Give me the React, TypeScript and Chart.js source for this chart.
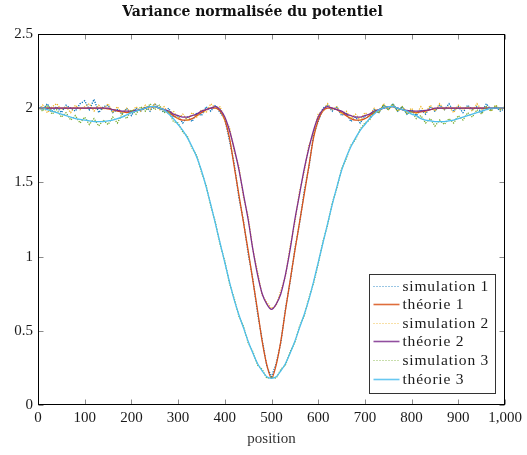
import React, { useEffect, useRef } from 'react';
import { Chart, registerables } from 'chart.js';

Chart.register(...registerables);

const W = 527;
const H = 455;

const chartTitle = 'Variance normalisée du potentiel';
const xTitle = 'position';
const seriesLabels = ['simulation 1', 'théorie 1', 'simulation 2', 'théorie 2', 'simulation 3', 'théorie 3'];

const positions = [
  0, 10, 20, 30, 40, 50, 60, 70, 80, 90,
  100, 110, 120, 130, 140, 150, 160, 170, 180, 190,
  200, 210, 220, 230, 240, 250, 260, 270, 280, 290,
  300, 310, 320, 330, 340, 350, 360, 370, 380, 390,
  400, 410, 420, 430, 440, 450, 460, 470, 480, 490,
  500, 510, 520, 530, 540, 550, 560, 570, 580, 590,
  600, 610, 620, 630, 640, 650, 660, 670, 680, 690,
  700, 710, 720, 730, 740, 750, 760, 770, 780, 790,
  800, 810, 820, 830, 840, 850, 860, 870, 880, 890,
  900, 910, 920, 930, 940, 950, 960, 970, 980, 990,
  1000,
];

const simulation1 = [
  2.02, 1.99, 2.03, 1.98, 2.01, 1.97, 2.02, 2.00, 1.98, 2.03,
  2.05, 1.99, 2.06, 1.97, 2.01, 2.02, 1.97, 1.99, 1.96, 2.00,
  1.95, 2.00, 1.98, 2.01, 1.98, 2.03, 2.00, 1.97, 2.00, 1.94,
  1.95, 1.90, 1.94, 1.91, 1.97, 1.95, 2.01, 1.98, 2.02, 1.97,
  1.93, 1.78, 1.63, 1.40, 1.24, 1.02, 0.85, 0.62, 0.44, 0.26,
  0.19, 0.28, 0.42, 0.65, 0.83, 1.05, 1.22, 1.44, 1.60, 1.82,
  1.91, 2.00, 2.02, 1.98, 2.01, 1.95, 1.97, 1.91, 1.94, 1.90,
  1.95, 1.93, 1.99, 1.97, 2.02, 1.99, 2.03, 1.98, 2.01, 1.96,
  1.99, 1.95, 1.99, 1.96, 2.01, 1.98, 2.02, 1.99, 2.03, 1.98,
  2.01, 1.97, 2.02, 1.99, 2.01, 1.97, 2.03, 1.99, 2.01, 1.98,
  2.00,
];

const theory1 = [
  2.00, 2.00, 2.00, 2.00, 2.00, 2.00, 2.00, 2.00, 2.00, 2.00,
  2.00, 2.00, 2.00, 2.00, 2.00, 1.995, 1.99, 1.98, 1.975, 1.97,
  1.975, 1.98, 1.99, 2.00, 2.01, 2.01, 2.00, 1.99, 1.97, 1.95,
  1.93, 1.92, 1.92, 1.93, 1.95, 1.97, 1.99, 2.00, 2.00, 1.98,
  1.92, 1.80, 1.61, 1.42, 1.23, 1.04, 0.84, 0.64, 0.43, 0.27,
  0.18, 0.27, 0.43, 0.64, 0.84, 1.04, 1.23, 1.42, 1.61, 1.80,
  1.92, 1.98, 2.00, 2.00, 1.99, 1.97, 1.95, 1.93, 1.92, 1.92,
  1.93, 1.95, 1.97, 1.99, 2.00, 2.01, 2.01, 2.00, 1.99, 1.98,
  1.975, 1.97, 1.975, 1.98, 1.99, 1.995, 2.00, 2.00, 2.00, 2.00,
  2.00, 2.00, 2.00, 2.00, 2.00, 2.00, 2.00, 2.00, 2.00, 2.00,
  2.00,
];

const simulation2 = [
  1.98, 2.02, 1.97, 2.01, 2.03, 1.99, 2.01, 1.97, 2.02, 1.99,
  2.01, 2.03, 1.98, 2.02, 1.99, 2.03, 1.97, 2.01, 1.96, 2.00,
  1.97, 2.01, 1.98, 2.02, 1.99, 2.03, 1.99, 2.01, 1.96, 1.98,
  1.93, 1.96, 1.92, 1.97, 1.94, 1.99, 1.97, 2.03, 2.00, 2.01,
  1.92, 1.87, 1.71, 1.61, 1.40, 1.27, 1.05, 0.90, 0.74, 0.69,
  0.65, 0.67, 0.77, 0.87, 1.07, 1.23, 1.44, 1.57, 1.75, 1.83,
  1.96, 1.98, 2.03, 1.99, 2.01, 1.96, 1.98, 1.93, 1.96, 1.92,
  1.97, 1.95, 2.00, 1.97, 2.03, 1.99, 2.02, 1.98, 2.01, 1.97,
  2.00, 1.96, 2.01, 1.97, 2.02, 1.98, 2.03, 1.99, 2.01, 1.97,
  2.02, 1.99, 2.01, 1.98, 2.03, 1.99, 2.01, 1.98, 2.02, 1.99,
  2.01,
];

const theory2 = [
  2.00, 2.00, 2.00, 2.00, 2.00, 2.00, 2.00, 2.00, 2.00, 2.00,
  2.00, 2.00, 2.00, 2.00, 2.00, 2.00, 1.99, 1.985, 1.98, 1.98,
  1.98, 1.985, 1.99, 2.00, 2.01, 2.01, 2.00, 1.99, 1.98, 1.96,
  1.95, 1.94, 1.94, 1.95, 1.96, 1.98, 1.99, 2.00, 2.01, 1.99,
  1.94, 1.85, 1.73, 1.59, 1.42, 1.25, 1.05, 0.88, 0.75, 0.68,
  0.645, 0.68, 0.75, 0.88, 1.05, 1.25, 1.42, 1.59, 1.73, 1.85,
  1.94, 1.99, 2.01, 2.00, 1.99, 1.98, 1.96, 1.95, 1.94, 1.94,
  1.95, 1.96, 1.98, 1.99, 2.00, 2.01, 2.01, 2.00, 1.99, 1.985,
  1.98, 1.98, 1.98, 1.985, 1.99, 2.00, 2.00, 2.00, 2.00, 2.00,
  2.00, 2.00, 2.00, 2.00, 2.00, 2.00, 2.00, 2.00, 2.00, 2.00,
  2.00,
];

const simulation3 = [
  2.01, 1.98, 2.02, 1.96, 1.99, 1.94, 1.97, 1.92, 1.95, 1.90,
  1.94, 1.89, 1.93, 1.88, 1.92, 1.89, 1.94, 1.90, 1.96, 1.93,
  1.99, 1.96, 2.01, 1.98, 2.03, 1.99, 2.02, 1.97, 1.98, 1.91,
  1.90, 1.84, 1.81, 1.73, 1.68, 1.57, 1.48, 1.34, 1.23, 1.08,
  0.97, 0.82, 0.72, 0.60, 0.53, 0.42, 0.36, 0.27, 0.24, 0.18,
  0.19, 0.18, 0.24, 0.27, 0.36, 0.42, 0.53, 0.60, 0.72, 0.82,
  0.95, 1.10, 1.21, 1.36, 1.46, 1.59, 1.66, 1.75, 1.79, 1.86,
  1.90, 1.92, 1.98, 1.97, 2.02, 1.99, 2.03, 1.98, 2.01, 1.96,
  1.98, 1.93, 1.95, 1.90, 1.93, 1.88, 1.92, 1.89, 1.93, 1.90,
  1.95, 1.92, 1.97, 1.94, 1.99, 1.96, 2.01, 1.98, 2.02, 1.99,
  2.01,
];

const theory3 = [
  2.00, 2.00, 1.99, 1.98, 1.97, 1.96, 1.95, 1.94, 1.93, 1.925,
  1.92, 1.915, 1.91, 1.91, 1.91, 1.915, 1.92, 1.93, 1.94, 1.955,
  1.97, 1.98, 1.99, 2.00, 2.01, 2.01, 2.00, 1.99, 1.96, 1.93,
  1.89, 1.85, 1.80, 1.74, 1.67, 1.58, 1.47, 1.35, 1.22, 1.09,
  0.96, 0.83, 0.71, 0.61, 0.52, 0.43, 0.35, 0.28, 0.23, 0.19,
  0.18, 0.19, 0.23, 0.28, 0.35, 0.43, 0.52, 0.61, 0.71, 0.83,
  0.96, 1.09, 1.22, 1.35, 1.47, 1.58, 1.67, 1.74, 1.80, 1.85,
  1.89, 1.93, 1.96, 1.99, 2.00, 2.01, 2.01, 2.00, 1.99, 1.98,
  1.96, 1.95, 1.93, 1.92, 1.915, 1.91, 1.91, 1.91, 1.915, 1.92,
  1.93, 1.94, 1.95, 1.96, 1.97, 1.98, 1.99, 2.00, 2.00, 2.00,
  2.00,
];

const seriesValues = [simulation1, theory1, simulation2, theory2, simulation3, theory3];
const seriesColors = ['#0072BD', '#D95319', '#EDB120', '#7E2F8E', '#77AC30', '#4DBEEE'];
const seriesDotted = [true, false, true, false, true, false];
const seriesOrder = [6, 5, 4, 3, 2, 1];

const SERIF = "'Liberation Serif', 'DejaVu Serif', serif";

const frameTicksPlugin = {
  id: 'frameTicks',
  afterDatasetsDraw(chart: any) {
    const { ctx, chartArea: a, scales } = chart;
    const l = Math.round(a.left) + 0.5;
    const r = Math.round(a.right) - 0.5;
    const t = Math.round(a.top) + 0.5;
    const b = Math.round(a.bottom) - 0.5;
    ctx.save();
    ctx.strokeStyle = '#8a8a8a';
    ctx.lineWidth = 1;
    ctx.beginPath();
    for (const tk of scales.x.ticks) {
      const px = Math.round(scales.x.getPixelForValue(tk.value)) + 0.5;
      ctx.moveTo(px, b);
      ctx.lineTo(px, b - 5);
      ctx.moveTo(px, t);
      ctx.lineTo(px, t + 5);
    }
    for (const tk of scales.y.ticks) {
      const py = Math.round(scales.y.getPixelForValue(tk.value)) + 0.5;
      ctx.moveTo(l, py);
      ctx.lineTo(l + 5, py);
      ctx.moveTo(r, py);
      ctx.lineTo(r - 5, py);
    }
    ctx.stroke();
    ctx.strokeStyle = '#000';
    ctx.strokeRect(l, t, r - l, b - t);
    ctx.restore();
  },
};

const boxLegendPlugin = {
  id: 'boxLegend',
  afterDraw(chart: any) {
    const { ctx } = chart;
    const ds = chart.data.datasets;
    const x0 = 369.5;
    const y0 = 274.5;
    const w = 126;
    const h = 119;
    ctx.save();
    ctx.fillStyle = '#fff';
    ctx.fillRect(x0, y0, w, h);
    ctx.strokeStyle = '#333';
    ctx.lineWidth = 1;
    ctx.strokeRect(x0, y0, w, h);
    ctx.font = `15.5px ${SERIF}`;
    try {
      (ctx as any).letterSpacing = '0.8px';
    } catch (e) {
      /* ignore */
    }
    ctx.textBaseline = 'middle';
    ctx.textAlign = 'left';
    ds.forEach((d: any, i: number) => {
      const y = Math.round(y0 + 11 + i * 18.6) + 0.5;
      const dotted = d.borderDash && d.borderDash.length;
      ctx.beginPath();
      ctx.strokeStyle = d.borderColor;
      ctx.globalAlpha = dotted ? 0.8 : 0.85;
      ctx.lineWidth = dotted ? 1 : 1.6;
      ctx.setLineDash(dotted ? [1, 2] : []);
      ctx.moveTo(x0 + 4, y);
      ctx.lineTo(x0 + 30, y);
      ctx.stroke();
      ctx.setLineDash([]);
      ctx.globalAlpha = 1;
      ctx.fillStyle = '#1a1a1a';
      ctx.fillText(d.label, x0 + 33, y + 0.5);
    });
    ctx.restore();
  },
};

export default function App() {
  const ref = useRef<HTMLCanvasElement>(null);

  useEffect(() => {
    if (!ref.current) return;
    const datasets = seriesLabels.map((label, i) => ({
      label,
      data: positions.map((p, k) => ({ x: p, y: seriesValues[i][k] })),
      borderColor: seriesColors[i],
      backgroundColor: seriesColors[i],
      borderWidth: 1.3,
      borderDash: seriesDotted[i] ? [1.2, 1.3] : [],
      pointRadius: 0,
      tension: 0,
      cubicInterpolationMode: seriesDotted[i] ? 'default' : 'monotone',
      fill: false,
      order: seriesOrder[i],
    }));

    const chart = new Chart(ref.current, {
      type: 'line',
      data: { datasets },
      options: {
        animation: false,
        responsive: false,
        devicePixelRatio: 1,
        locale: 'en-US',
        layout: { padding: { left: 0, right: 22, top: 0, bottom: 0 } },
        plugins: {
          legend: { display: false },
          tooltip: { enabled: false },
          title: {
            display: true,
            text: chartTitle,
            color: '#111',
            font: { family: "'DejaVu Serif', serif", weight: 'bold', size: 14 },
            padding: { top: 4, bottom: 13.2 },
          },
        },
        scales: {
          x: {
            type: 'linear',
            min: 0,
            max: 1000,
            grid: { display: false, drawTicks: false },
            border: { display: false },
            ticks: {
              stepSize: 100,
              autoSkip: false,
              maxRotation: 0,
              padding: 4,
              color: '#1a1a1a',
              font: { family: SERIF, size: 15 },
              callback: (v: any) => Number(v).toLocaleString('en-US'),
            },
            title: {
              display: true,
              text: xTitle,
              color: '#333',
              font: { family: SERIF, size: 15 },
              padding: { top: 0, bottom: 7 },
            },
            afterFit: (s: any) => {
              s.height = 50;
            },
          },
          y: {
            type: 'linear',
            min: 0,
            max: 2.5,
            grid: { display: false, drawTicks: false },
            border: { display: false },
            ticks: {
              stepSize: 0.5,
              padding: 5,
              color: '#1a1a1a',
              font: { family: SERIF, size: 15 },
              callback: (v: any) => String(v),
            },
            afterFit: (s: any) => {
              s.width = 38;
            },
          },
        },
      },
      plugins: [frameTicksPlugin, boxLegendPlugin],
    } as any);

    return () => chart.destroy();
  }, []);

  return (
    <div style={{ position: 'fixed', left: 0, top: 0, width: W, height: H, background: '#fff' }}>
      <canvas ref={ref} width={W} height={H} style={{ width: W, height: H, display: 'block' }} />
    </div>
  );
}
